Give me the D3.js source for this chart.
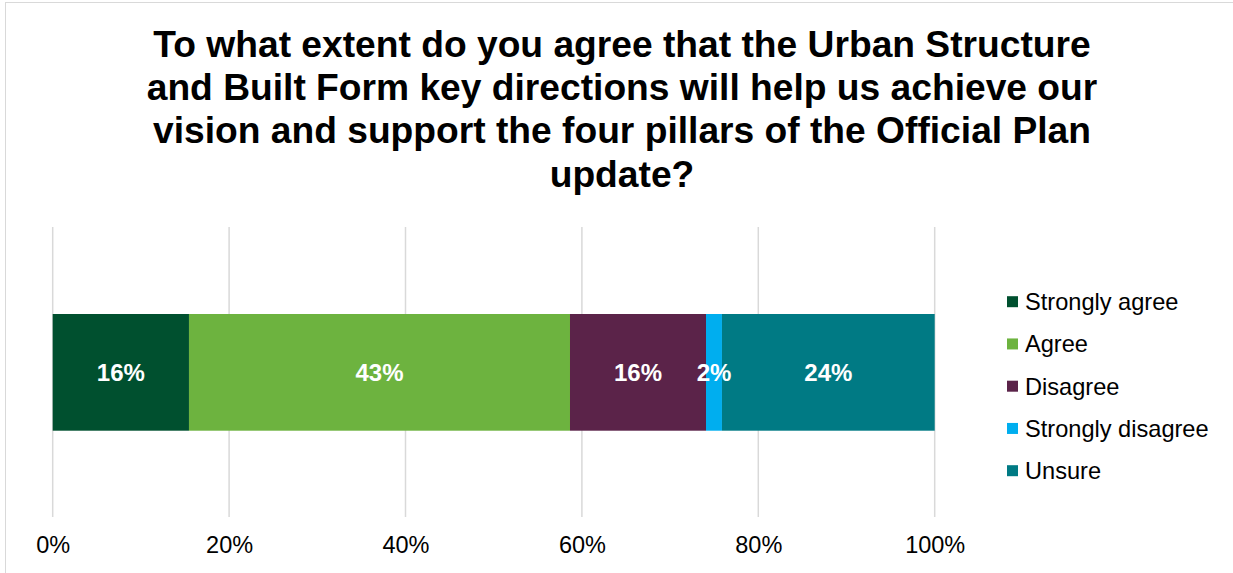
<!DOCTYPE html>
<html>
<head>
<meta charset="utf-8">
<script src="https://cdn.jsdelivr.net/npm/d3@7/dist/d3.min.js"></script>
<style>
  html, body { margin: 0; padding: 0; background: #fff; }
  svg { display: block; font-family: "Liberation Sans", Arial, sans-serif; }
</style>
</head>
<body>
<svg id="chart" width="1233" height="573"></svg>
<script>
const titleLines = [
  "To what extent do you agree that the Urban Structure",
  "and Built Form key directions will help us achieve our",
  "vision and support the four pillars of the Official Plan",
  "update?"
];
const categories = ["Strongly agree", "Agree", "Disagree", "Strongly disagree", "Unsure"];
const values = [15.45, 43.2, 15.42, 1.81, 24.12];
const labels = ["16%", "43%", "16%", "2%", "24%"];
const colors = ["#00502F", "#6DB33F", "#5B2349", "#00AEEF", "#007A84"];
const tickValues = [0, 20, 40, 60, 80, 100];

const svg = d3.select("#chart");

// chart border
svg.append("rect")
  .attr("x", 5.5).attr("y", 2.5)
  .attr("width", 1400).attr("height", 800)
  .attr("fill", "none").attr("stroke", "#d9d9d9").attr("stroke-width", 1);

// title
const title = svg.append("text")
  .attr("text-anchor", "middle")
  .attr("font-weight", "bold")
  .attr("font-size", 37.2)
  .attr("fill", "#000");
titleLines.forEach((t, i) => {
  title.append("tspan").attr("x", 622).attr("y", 56.7 + i * 43.3).text(t);
});

const x = d3.scaleLinear().domain([0, 100]).range([52.7, 934.7]);

// gridlines
svg.append("g").selectAll("line").data(tickValues).join("line")
  .attr("x1", d => x(d)).attr("x2", d => x(d))
  .attr("y1", 227).attr("y2", 517)
  .attr("stroke", "#d9d9d9").attr("stroke-width", 1.5);

// axis
const axis = d3.axisBottom(x).tickValues(tickValues).tickFormat(d => d + "%").tickSize(0).tickPadding(0);
const ag = svg.append("g").attr("transform", "translate(0,536)").call(axis);
ag.select(".domain").remove();
ag.selectAll("text")
  .attr("font-size", 23.5).attr("fill", "#000")
  .attr("font-family", "'Liberation Sans', Arial, sans-serif")
  .attr("dy", "0.71em");

// stacked bar
let cum = 0;
const segs = values.map((v, i) => { const s = { start: cum, end: cum + v, i }; cum += v; return s; });
const barY = 314, barH = 116.7;
svg.append("g").selectAll("rect").data(segs).join("rect")
  .attr("x", d => x(d.start))
  .attr("width", d => x(d.end) - x(d.start))
  .attr("y", barY).attr("height", barH)
  .attr("fill", d => colors[d.i]);

svg.append("g").selectAll("text").data(segs).join("text")
  .attr("x", d => (x(d.start) + x(d.end)) / 2)
  .attr("y", barY + barH / 2 + 8.6)
  .attr("text-anchor", "middle")
  .attr("font-weight", "bold").attr("font-size", 24)
  .attr("fill", "#fff")
  .text(d => labels[d.i]);

// legend
const lg = svg.append("g");
const rowY = d3.scalePoint().domain(categories).range([301.7, 470.7]);
categories.forEach((c, i) => {
  lg.append("rect").attr("x", 1007).attr("y", rowY(c) - 5.5).attr("width", 11).attr("height", 11).attr("fill", colors[i]);
  lg.append("text").attr("x", 1025).attr("y", rowY(c) + 8.3)
    .attr("font-size", 23.6).attr("fill", "#000").text(c);
});
</script>
</body>
</html>
